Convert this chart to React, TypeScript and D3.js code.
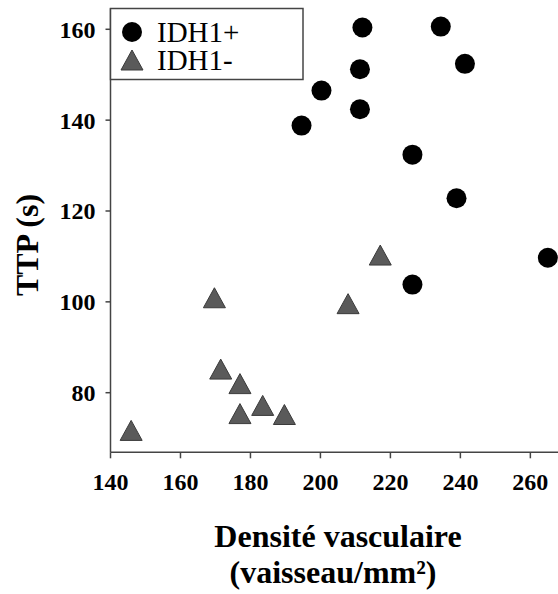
import React from "react";
import * as d3 from "d3";

const posX = [212, 234.4, 241.3, 211.3, 200.3, 211.3, 194.6, 226.3, 238.9, 265, 226.3];
const posY = [160.4, 160.6, 152.4, 151.2, 146.5, 142.4, 138.8, 132.4, 122.8, 109.7, 103.8];
const negX = [217.1, 169.7, 207.9, 171.5, 177, 177, 183.5, 189.7, 145.9];
const negY = [110.3, 100.9, 99.6, 85.2, 82, 75.4, 77.2, 75.2, 71.7];
const xTicks = [140, 160, 180, 200, 220, 240, 260];
const yTicks = [80, 100, 120, 140, 160];
const seriesLabels = ["IDH1+", "IDH1-"];
const xTitle = ["Densité vasculaire", "(vaisseau/mm²)"];
const yTitle = "TTP (s)";

const W = 558;
const H = 594;
const FONT = "'Liberation Serif', 'Times New Roman', serif";
const AXIS = "#444";
const TRI_FILL = "#5a5a5a";
const TRI_STROKE = "#3a3a3a";

const tri = (cx: number, cy: number) =>
  `M${cx},${cy - 10} L${cx + 11},${cy + 10} L${cx - 11},${cy + 10} Z`;

export default function App() {
  const x = d3.scaleLinear().domain([140, 267.9]).range([110.5, 558]);
  const y = d3.scaleLinear().domain([66.88, 164.62]).range([452.3, 8.3]);
  const x0 = x(140);
  const yb = y(66.88);
  const yt = y(164.62);

  return (
    <svg
      width={W}
      height={H}
      style={{ position: "absolute", left: 0, top: 0, background: "#fff" }}
      fontFamily={FONT}
    >
      <rect width={W} height={H} fill="#fff" />
      <line x1={x0} x2={x0} y1={yt} y2={yb} stroke={AXIS} strokeWidth={1.5} />
      <line x1={x0} x2={W} y1={yb} y2={yb} stroke={AXIS} strokeWidth={1.5} />
      {yTicks.map((t) => (
        <g key={"y" + t}>
          <line x1={x0 - 5} x2={x0} y1={y(t)} y2={y(t)} stroke={AXIS} strokeWidth={1.5} />
          <text x={x0 - 15} y={y(t)} dy="0.35em" textAnchor="end" fontSize={24} fontWeight="bold">
            {t}
          </text>
        </g>
      ))}
      {xTicks.map((t) => (
        <g key={"x" + t}>
          <line x1={x(t)} x2={x(t)} y1={yb} y2={yb + 6} stroke={AXIS} strokeWidth={1.5} />
          <text x={x(t)} y={490} textAnchor="middle" fontSize={24} fontWeight="bold">
            {t}
          </text>
        </g>
      ))}
      {negX.map((v, i) => (
        <path key={"n" + i} d={tri(x(v), y(negY[i]))} fill={TRI_FILL} stroke={TRI_STROKE} strokeWidth={1} />
      ))}
      {posX.map((v, i) => (
        <circle key={"p" + i} cx={x(v)} cy={y(posY[i])} r={10} fill="#000" />
      ))}
      <rect x={x0} y={8.5} width={192.5} height={71} fill="#fff" stroke={AXIS} strokeWidth={1.5} />
      <circle cx={132} cy={32} r={10} fill="#000" />
      <path d={tri(132, 60)} fill={TRI_FILL} stroke={TRI_STROKE} strokeWidth={1} />
      <text x={157} y={42} fontSize={29}>
        {seriesLabels[0]}
      </text>
      <text x={157} y={70} fontSize={29}>
        {seriesLabels[1]}
      </text>
      <text x={338} y={547} textAnchor="middle" fontSize={32} fontWeight="bold">
        {xTitle[0]}
      </text>
      <text x={333} y={583} textAnchor="middle" fontSize={32} fontWeight="bold">
        {xTitle[1]}
      </text>
      <text transform={`translate(38,245) rotate(-90)`} textAnchor="middle" fontSize={32} fontWeight="bold">
        {yTitle}
      </text>
    </svg>
  );
}
